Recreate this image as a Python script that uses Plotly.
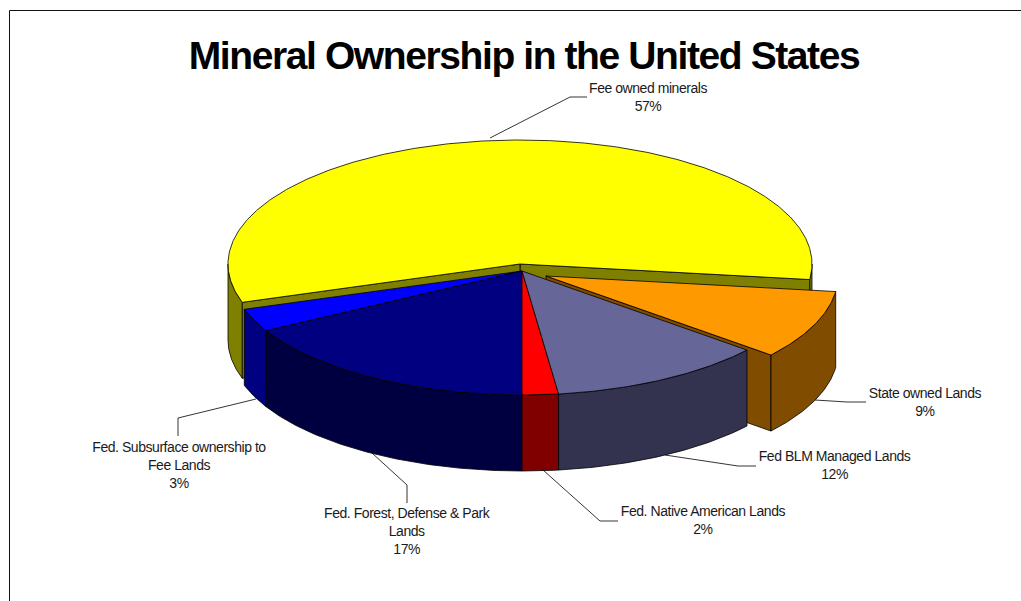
import numpy as np
import plotly.graph_objects as go

# Ownership shares in percent, in drawing order around the pie
categories = [
    "Fed. Subsurface ownership to<br>Fee Lands",
    "Fed. Forest, Defense & Park<br>Lands",
    "Fed. Native American Lands",
    "Fed BLM Managed Lands",
    "State owned Lands",
    "Fee owned minerals",
]
shares = [3, 17, 2, 12, 9, 57]
top_colors = ["#0000FF", "#000080", "#FF0000", "#666699", "#FF9900", "#FFFF00"]
side_colors = ["#000080", "#000040", "#800000", "#333350", "#804D00", "#808000"]

# Label centres and leader-line paths, in the pixel space of the figure
label_centres = [(179, 465), (407, 531), (703, 520), (834, 465), (925, 402), (648, 97)]
leaders = [
    [(256, 399), (178, 418), (178, 436)],
    [(372, 453), (407, 485), (407, 503)],
    [(543, 470), (600, 521), (618, 521)],
    [(665, 455), (738, 466), (756, 466)],
    [(815, 400), (847, 402), (866, 402)],
    [(490, 138), (570, 97), (587, 97)],
]

WIDTH, HEIGHT = 1021, 601
RX, RY, DEPTH = 292, 124, 76
START_ANGLE = 162.0  # screen angle where the first slice begins; slices run clockwise on screen
centres = [(522, 271), (522, 271), (522, 271), (522, 271), (546, 276), (520, 264)]

# Each slice spans [a1, a0] in screen degrees, decreasing as the shares accumulate
edges = START_ANGLE - np.cumsum([0] + shares) * 3.6


def rim(c, a0, a1, drop=0.0):
    t = np.radians(np.linspace(a0, a1, max(2, int(abs(a1 - a0)) * 2 + 2)))
    return c[0] + RX * np.cos(t), c[1] + RY * np.sin(t) + drop


def polygon(fig, xs, ys, color):
    fig.add_trace(go.Scatter(
        x=list(xs) + [xs[0]], y=list(ys) + [ys[0]], mode="lines", fill="toself",
        fillcolor=color, line=dict(color="#000000", width=0.8),
        hoverinfo="skip", showlegend=False,
    ))


def outer_wall(fig, c, a0, a1, color):
    # Only the part of the rim facing the viewer (sine > 0) gets a wall
    lo, hi = max(min(a0, a1), 0), min(max(a0, a1), 180)
    if hi <= lo:
        return
    x1, y1 = rim(c, lo, hi)
    x2, y2 = rim(c, hi, lo, DEPTH)
    polygon(fig, np.r_[x1, x2], np.r_[y1, y2], color)


def cut_wall(fig, c, angle, color):
    x, y = rim(c, angle, angle)
    polygon(fig, [c[0], x[0], x[0], c[0]], [c[1], y[0], y[0] + DEPTH, c[1] + DEPTH], color)


def top_face(fig, c, a0, a1, color):
    x, y = rim(c, a0, a1)
    polygon(fig, np.r_[c[0], x], np.r_[c[1], y], color)


fig = go.Figure()

# Yellow slice sits at the back: its two cut faces show below the top surface
a0, a1 = edges[5], edges[6]
outer_wall(fig, centres[5], a0, a1, side_colors[5])
outer_wall(fig, centres[5], a0 + 360, a1 + 360, side_colors[5])
cut_wall(fig, centres[5], a0, side_colors[5])
cut_wall(fig, centres[5], a1, side_colors[5])
top_face(fig, centres[5], a0, a1, top_colors[5])

# The pulled-out orange slice shows its leading cut face
cut_wall(fig, centres[4], edges[4], side_colors[4])
outer_wall(fig, centres[4], edges[4], edges[5], side_colors[4])
top_face(fig, centres[4], edges[4], edges[5], top_colors[4])

# The four slices at the front share one centre
for i in range(4):
    outer_wall(fig, centres[i], edges[i], edges[i + 1], side_colors[i])
    top_face(fig, centres[i], edges[i], edges[i + 1], top_colors[i])

# Leader lines and their labels
for path in leaders:
    fig.add_trace(go.Scatter(
        x=[p[0] for p in path], y=[p[1] for p in path], mode="lines",
        line=dict(color="#000000", width=0.8), hoverinfo="skip", showlegend=False,
    ))
for name, share, (cx, cy) in zip(categories, shares, label_centres):
    fig.add_annotation(
        x=cx, y=cy, xref="x", yref="y", text=f"{name}<br>{share}%", showarrow=False,
        align="center", xanchor="center", yanchor="middle",
        font=dict(family="Liberation Sans", size=14, color="#1a1a1a"),
    )

fig.update_layout(
    width=WIDTH, height=HEIGHT, autosize=False,
    margin=dict(l=0, r=0, t=0, b=0),
    paper_bgcolor="#FFFFFF", plot_bgcolor="#FFFFFF",
    title=dict(
        text="<b>Mineral Ownership in the United States</b>",
        x=524 / WIDTH, y=1 - 55 / HEIGHT, xanchor="center", yanchor="middle",
        xref="paper", yref="paper",
        font=dict(family="Liberation Sans", size=39, color="#000000"),
    ),
    xaxis=dict(range=[0, WIDTH], visible=False, fixedrange=True),
    yaxis=dict(range=[HEIGHT, 0], visible=False, fixedrange=True),
    shapes=[
        dict(type="line", xref="x", yref="y", x0=9.5, y0=10.5, x1=WIDTH, y1=10.5,
             line=dict(color="#111111", width=1)),
        dict(type="line", xref="x", yref="y", x0=9.5, y0=10.5, x1=9.5, y1=HEIGHT,
             line=dict(color="#111111", width=1)),
    ],
)

# Tighten the tracking of the title and labels after the plot is drawn
tracking = """
document.querySelectorAll('.gtitle').forEach(function (t) { t.style.letterSpacing = '-1.4px'; });
document.querySelectorAll('.annotation-text').forEach(function (t) { t.style.letterSpacing = '-0.45px'; });
"""
fig.write_html("out.html", post_script=tracking, config={"displayModeBar": False})
